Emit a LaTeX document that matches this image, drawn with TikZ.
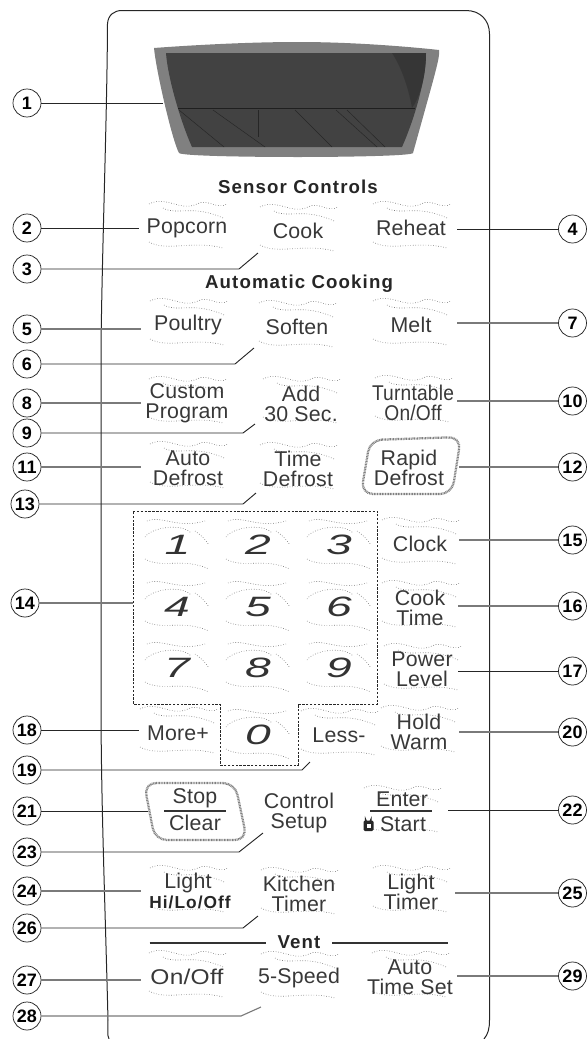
\documentclass[tikz,border=0pt]{standalone}
\usepackage{fontspec}
\setmainfont{Liberation Sans}
\newfontfamily\btnfont[LetterSpace=1]{Liberation Sans}
\newfontfamily\headfont[LetterSpace=6,BoldFont={Liberation Sans Bold}]{Liberation Sans}
\newfontfamily\numfont{Liberation Sans}
\begin{document}
\begin{tikzpicture}[x=0.75pt,y=-0.75pt,
  btn/.style={inner sep=0pt,align=center,text=black!78,font=\btnfont\fontsize{16}{15}\selectfont},
  head/.style={inner sep=0pt,text=black!85,font=\headfont\bfseries\fontsize{14}{15}\selectfont},
  small/.style={inner sep=0pt,text=black!85,font=\headfont\bfseries\fontsize{13}{14}\selectfont},
  digit/.style={inner sep=0pt,text=black!80,xscale=1.65,font=\itshape\fontsize{21}{22}\selectfont},
  num/.style={circle,draw=black!85,line width=0.55pt,fill=white,minimum size=21pt,inner sep=0pt,font=\numfont\bfseries\fontsize{13.5}{14}\selectfont},
  conn/.style={draw=black!85,line width=0.7pt},
  connl/.style={draw=black!52,line width=0.85pt},
  frame/.style={draw=black!85,line width=0.75pt},
  rule/.style={draw=black!80,line width=1.5pt},
  halo/.style={draw=black!50,line width=1.7pt,dash pattern=on 0.7pt off 0.5pt,rounded corners=9pt},
  keypad/.style={draw=black!85,line width=0.75pt,dash pattern=on 1.8pt off 1.1pt},
  ripline/.style={draw=black!55,line width=0.45pt,dash pattern=on 0.5pt off 1.4pt},
  ripple/.pic={
    \draw[ripline] (-38,-24) .. controls (-20,-33) and (-8,-16) .. (10,-24) .. controls (20,-30) and (30,-18) .. (40,-24);
    \draw[ripline] (-24,-20) .. controls (-10,-12) and (5,-24) .. (36,-10);
    \draw[ripline] (-38,14) .. controls (-20,24) and (5,12) .. (36,20);
  },
  ripkey/.pic={
    \draw[ripline] (-30,-24) .. controls (-15,-30) and (0,-16) .. (28,-24);
    \draw[ripline] (-32,-8) .. controls (-25,-18) and (5,-22) .. (14,-12);
    \draw[ripline] (18,-14) .. controls (24,-10) and (28,-6) .. (32,0);
    \draw[ripline] (-32,14) .. controls (-15,24) and (5,12) .. (32,24);
  }]
\useasboundingbox (0,0) rectangle (586,1039);
% panel outline
\draw[frame] (109,1039) .. controls (107,1034) and (108,1032) .. (108,1020)
  .. controls (105,900) and (101,800) .. (101,700) -- (101,350)
  .. controls (102,250) and (107,120) .. (107.5,24)
  .. controls (108,15) and (114,10.5) .. (122,10.5) -- (466,10.5)
  .. controls (480,10.5) and (489.5,20) .. (489.5,34) -- (489.5,1020)
  .. controls (489.5,1029) and (488,1034) .. (484,1039);
% display
\fill[black!50] (154,48) .. controls (154,48) and (230,42) .. (298,42)
  .. controls (370,42) and (439,50) .. (439,50)
  .. controls (440,58) and (436,70) .. (413,153)
  .. controls (412,156) and (340,157) .. (298,157)
  .. controls (250,157) and (182,156) .. (179,153)
  .. controls (172,140) and (156,70) .. (154,48) -- cycle;
\fill[black!74] (166,53) -- (426,53) .. controls (426,80) and (414,120) .. (402,147)
  -- (192,147) .. controls (182,125) and (168,80) .. (166,53) -- cycle;
\fill[black!79] (392,53) -- (426,53) .. controls (426,80) and (418,100) .. (412,108)
  .. controls (408,85) and (400,65) .. (392,53) -- cycle;
\draw[black!88,line width=0.4pt] (178,108) -- (415,108);
\foreach \ax/\bx in {179/224,213/265,295/332,336/377,347/385}
  \draw[black!85,line width=0.35pt] (\ax,110) -- (\bx,147);
\draw[black!85,line width=0.35pt] (258,110) -- (258,137);
% ripples
\foreach \x/\y in {187/228,298/231,411/228,188/325,297/327,411/325,187/403,301/403,413/402,188/468,298/469,420/544,420/607,422/670,178/733,339/735,419/732,402/812,188/892,299/894,411/892,187/977,299/978,410/977}
  \pic at (\x,\y) {ripple};
\foreach \x/\y in {177/545,258/545,339/545,177/607,258/607,339/607,177/668,258/668,339/668,258/735}
  \pic at (\x,\y) {ripkey};
% keypad outline and halos
\draw[keypad] (133,511) -- (377.5,511) -- (377.5,704) -- (298,704) -- (298,765) -- (220,765) -- (220,704) -- (133,704) -- cycle;
\draw[halo] (370,440) -- (461,437) -- (452,494) -- (361,494) -- cycle;
\draw[halo] (144,783) -- (235,783) -- (247,840) -- (155,840) -- cycle;
% headings
\node[head] (sensor) at (298,187) {Sensor Controls};
\node[head] (auto) at (299,284) {Automatic Cooking};
\node[head] (vent) at (299,942) {Vent};
\coordinate (ventLa) at (149.5,943); \coordinate (ventLb) at (266,943);
\coordinate (ventRa) at (332,943); \coordinate (ventRb) at (448,943);
\draw[rule,line width=2pt] (ventLa) -- (ventLb);
\draw[rule,line width=2pt] (ventRa) -- (ventRb);
% buttons
\node[btn] (popcorn) at (187,228) {Popcorn};
\node[btn] (cook) at (298,231) {Cook};
\node[btn] (reheat) at (411,228) {Reheat};
\node[btn] (poultry) at (188,325) {Poultry};
\node[btn] (soften) at (297,327) {Soften};
\node[btn] (melt) at (411,325) {Melt};
\node[btn] (custom) at (187,403) {Custom\\Program};
\node[btn] (add) at (301,403.5) {Add\\30 Sec.};
\node[btn,xscale=0.9] (turn) at (413,402.5) {Turntable\\On/Off};
\node[btn] (autod) at (188,468) {Auto\\Defrost};
\node[btn] (timed) at (298,469) {Time\\Defrost};
\node[btn] (rapid) at (409,467.5) {Rapid\\Defrost};
\node[digit] (k1) at (177.5,545) {1};
\node[digit] (k2) at (258,545) {2};
\node[digit] (k3) at (339,545) {3};
\node[digit] (k4) at (177,607) {4};
\node[digit] (k5) at (258,607) {5};
\node[digit] (k6) at (339,607) {6};
\node[digit] (k7) at (177,668) {7};
\node[digit] (k8) at (258,668) {8};
\node[digit] (k9) at (339,668) {9};
\node[digit] (k0) at (258,735) {0};
\node[btn] (clock) at (420,544) {Clock};
\node[btn] (cooktime) at (420,607.5) {Cook\\Time};
\node[btn] (power) at (422,669.5) {Power\\Level};
\node[btn] (more) at (178,733) {More+};
\node[btn] (less) at (339,735) {Less-};
\node[btn] (hold) at (419,732) {Hold\\Warm};
\node[btn] (stop) at (195,798) {Stop};
\node[btn] (clear) at (195,823) {Clear};
\coordinate (sb) at (164,811); \coordinate (sc) at (226,811);
\draw[rule] (sb) -- (sc);
\node[btn] (control) at (299,813) {Control\\Setup};
\node[btn] (enter) at (402,799) {Enter};
\node[btn] (start) at (403,824) {Start};
\coordinate (ea) at (370,811); \coordinate (eb) at (432,811);
\draw[rule] (ea) -- (eb);
% lock icon
\draw[black!85,line width=1.1pt] (365.5,821) -- (365.5,819.5) arc (180:0:2.75) -- (371,821);
\fill[black!85,rounded corners=1pt] (363.5,820.5) rectangle (373.5,831);
\fill[white] (366.5,823.5) rectangle (370.5,828);
\node[btn] (light) at (188,883) {Light};
\node[small] (hilo) at (190,902) {Hi/Lo/Off};
\node[btn] (kitchen) at (299,894) {Kitchen\\Timer};
\node[btn] (ltimer) at (411,892) {Light\\Timer};
\node[btn,xscale=1.15] (onoff) at (187,977) {On/Off};
\node[btn] (speed) at (299,978) {5-Speed};
\node[btn] (autots) at (410,977.5) {Auto\\Time Set};
% numbered circles
\foreach \n/\x/\y in {1/27/103,2/27/228,3/27/269,5/27/329,6/27/364,8/27/403,9/27/433,11/27/467,13/25/504,14/25/603,18/27/730,19/27/770,21/27/811,23/27/852,24/27/891,26/27/928,27/27/980,28/27/1016,4/572.5/229,7/572.5/323,10/572.5/401,12/572.5/467,15/572.5/540,16/572.5/606,17/572.5/671,20/572.5/732,22/572.5/810,25/572.5/893,29/572.5/976}
  \node[num] (c\n) at (\x,\y) {\n};
% free ends of connectors
\coordinate (e1) at (163,103);
\coordinate (e2) at (139,228);
\coordinate (b3) at (239,269); \coordinate (e3) at (258,253);
\coordinate (e4) at (457,229);
\coordinate (e5) at (141,329);
\coordinate (b6) at (235,364); \coordinate (e6) at (254,348);
\coordinate (e7) at (457,323);
\coordinate (e8) at (141,403);
\coordinate (b9) at (243,433); \coordinate (e9) at (255,424);
\coordinate (e10) at (457,401);
\coordinate (e11) at (141,467);
\coordinate (e12) at (459,467);
\coordinate (b13) at (243,504); \coordinate (e13) at (256,493);
\coordinate (e14) at (133,603);
\coordinate (e15) at (459,540);
\coordinate (e16) at (458,606);
\coordinate (e17) at (458,671);
\coordinate (e18) at (139,730);
\coordinate (b19) at (302,770); \coordinate (e19) at (310,762);
\coordinate (e20) at (459,732);
\coordinate (e21) at (148,811);
\coordinate (e22) at (448,810);
\coordinate (b23) at (239,852); \coordinate (e23) at (263,833);
\coordinate (e24) at (141,891);
\coordinate (e25) at (455,893);
\coordinate (b26) at (243,928); \coordinate (e26) at (258,916);
\coordinate (e27) at (141,980);
\coordinate (b28) at (241,1016); \coordinate (e28) at (261,1007);
\coordinate (e29) at (457,976);
% connectors
\foreach \n in {1,2,4,18,21,22,17}
  \draw[conn] (c\n) -- (e\n);
\foreach \n in {5,7,8,10,11,12,14,15,16,20,24,25,27,29}
  \draw[connl] (c\n) -- (e\n);
\foreach \n in {3,6,9,13,19,23,26}
  \draw[conn] (c\n) -- (b\n) -- (e\n);
\draw[connl] (c28) -- (b28) -- (e28);
\end{tikzpicture}
\end{document}
